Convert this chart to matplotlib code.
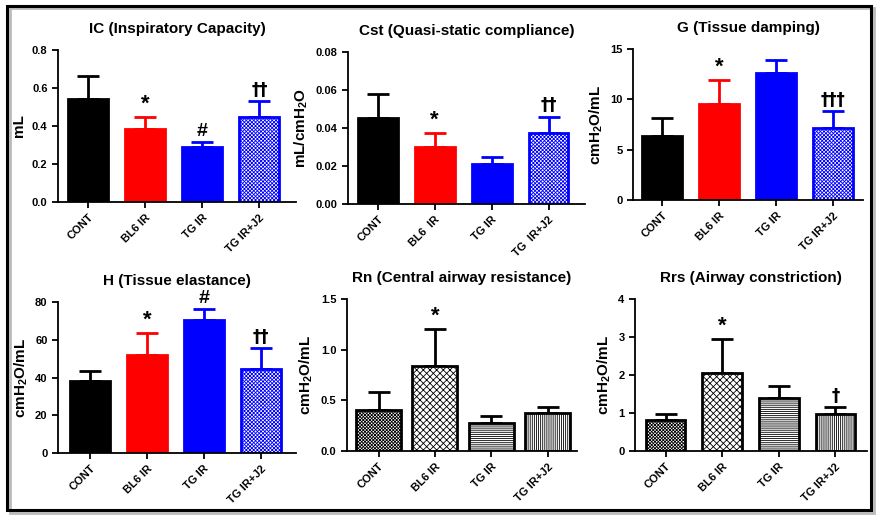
import numpy as np
import matplotlib.pyplot as plt
from matplotlib.patches import Rectangle

plt.rcParams['font.family'] = ['Liberation Sans', 'DejaVu Sans']
plt.rcParams['font.weight'] = 'bold'
plt.rcParams['hatch.linewidth'] = 0.6
plt.rcParams['mathtext.fontset'] = 'custom'
plt.rcParams['mathtext.rm'] = 'Liberation Sans:bold'
plt.rcParams['mathtext.bf'] = 'Liberation Sans:bold'
plt.rcParams['mathtext.default'] = 'bf'

groups = ['CONT', 'BL6 IR', 'TG IR', 'TG IR+J2']
cst_groups = ['CONT', 'BL6  IR', 'TG IR', 'TG  IR+J2']

# mean and upper error (SD) per panel
ic_mean = [0.54, 0.385, 0.288, 0.447]
ic_err = [0.125, 0.065, 0.027, 0.083]
cst_mean = [0.0455, 0.030, 0.021, 0.0375]
cst_err = [0.0125, 0.0075, 0.0035, 0.0085]
g_mean = [6.4, 9.5, 12.6, 7.2]
g_err = [1.7, 2.4, 1.3, 1.6]
h_mean = [38.3, 51.8, 70.3, 44.7]
h_err = [5.0, 11.8, 5.8, 11.0]
rn_mean = [0.40, 0.836, 0.277, 0.373]
rn_err = [0.185, 0.37, 0.073, 0.063]
rrs_mean = [0.82, 2.06, 1.39, 0.97]
rrs_err = [0.15, 0.88, 0.33, 0.18]

ic_marks = ['', '*', '#', '††']
cst_marks = ['', '*', '', '††']
g_marks = ['', '*', '', '†††']
h_marks = ['', '*', '#', '††']
rn_marks = ['', '*', '', '']
rrs_marks = ['', '*', '', '†']

W, H = 880, 518
fig = plt.figure(figsize=(8.8, 5.18), dpi=100)


def box(l, r, t, b):
    return [l / W, (H - b) / H, (r - l) / W, (b - t) / H]


top_colors = ['black', '#ff0000', '#0000ff', 'white']
top_edges = ['black', '#ff0000', '#0000ff', '#0000ff']
top_hatch = [None, None, None, 'xxxxxxxxx']
bot_hatch = ['xxxxxxxxxx', 'xxxxx', '--------', '||||||||']
mark_size = {'*': 16, '#': 14}

panels = [
    dict(pos=box(58, 296, 50, 202), title='IC (Inspiratory Capacity)', ylabel='mL',
         mean=ic_mean, err=ic_err, marks=ic_marks, ylim=(0, 0.8), yt=[0.0, 0.2, 0.4, 0.6, 0.8],
         fmt='{:.1f}', xl=(-0.52, 3.64), top=True, labels=groups, w=0.7),
    dict(pos=box(348, 585, 52, 204), title='Cst (Quasi-static compliance)', ylabel='mL/cmH$_2$O',
         mean=cst_mean, err=cst_err, marks=cst_marks, ylim=(0, 0.08), yt=[0.0, 0.02, 0.04, 0.06, 0.08],
         fmt='{:.2f}', xl=(-0.52, 3.64), top=True, labels=cst_groups, w=0.7),
    dict(pos=box(633, 863, 49, 200), title='G (Tissue damping)', ylabel='cmH$_2$O/mL',
         mean=g_mean, err=g_err, marks=g_marks, ylim=(0, 15), yt=[0, 5, 10, 15],
         fmt='{:.0f}', xl=(-0.51, 3.53), top=True, labels=groups, w=0.7),
    dict(pos=box(58, 296, 302, 453), title='H (Tissue elastance)', ylabel='cmH$_2$O/mL',
         mean=h_mean, err=h_err, marks=h_marks, ylim=(0, 80), yt=[0, 20, 40, 60, 80],
         fmt='{:.0f}', xl=(-0.56, 3.62), top=True, labels=groups, w=0.7),
    dict(pos=box(347, 577, 299, 451), title='Rn (Central airway resistance)', ylabel='cmH$_2$O/mL',
         mean=rn_mean, err=rn_err, marks=rn_marks, ylim=(0, 1.5), yt=[0.0, 0.5, 1.0, 1.5],
         fmt='{:.1f}', xl=(-0.56, 3.52), top=False, labels=groups, w=0.8),
    dict(pos=box(635, 867, 299, 451), title='Rrs (Airway constriction)', ylabel='cmH$_2$O/mL',
         mean=rrs_mean, err=rrs_err, marks=rrs_marks, ylim=(0, 4), yt=[0, 1, 2, 3, 4],
         fmt='{:.0f}', xl=(-0.54, 3.56), top=False, labels=groups, w=0.7),
]

x = np.arange(4)
for p in panels:
    ax = fig.add_axes(p['pos'])
    for i in range(4):
        if p['top']:
            fc, ec, hatch = top_colors[i], top_edges[i], top_hatch[i]
        else:
            fc, ec, hatch = 'white', 'black', bot_hatch[i]
        ax.bar(x[i], p['mean'][i], width=p['w'], color=fc, edgecolor=ec,
               hatch=hatch, linewidth=2, zorder=2)
        ax.errorbar(x[i], p['mean'][i], yerr=[[0], [p['err'][i]]], color=ec,
                    capsize=8, elinewidth=2, capthick=2, zorder=1)
        m = p['marks'][i]
        if m:
            ax.text(x[i], p['mean'][i] + p['err'][i] + 0.015 * p['ylim'][1], m,
                    ha='center', va='bottom', fontsize=mark_size.get(m, 12),
                    fontweight='bold', family=['DejaVu Sans'] if '†' in m else None)
    ax.set_xlim(*p['xl'])
    ax.set_ylim(*p['ylim'])
    ax.set_yticks(p['yt'])
    ax.set_yticklabels([p['fmt'].format(v) for v in p['yt']], fontsize=8, fontweight='bold')
    ax.set_xticks(x)
    ax.set_xticklabels(p['labels'], rotation=45, ha='right', rotation_mode='anchor',
                       fontsize=8, fontweight='bold')
    ax.spines['top'].set_visible(False)
    ax.spines['right'].set_visible(False)
    ax.spines['left'].set_linewidth(1.3)
    ax.spines['bottom'].set_linewidth(1.3)
    ax.tick_params(width=1.3, length=4)
    ax.set_ylabel(p['ylabel'], fontsize=11, fontweight='bold', labelpad=4)
    ax.set_title(p['title'], fontsize=11, fontweight='bold', pad=12)

# outer frame
fig.patches.append(Rectangle((10 / W, (H - 513) / H), 864 / W, 505 / H, transform=fig.transFigure,
                             fill=False, edgecolor='#bbbbbb', linewidth=2.0))
fig.patches.append(Rectangle((7 / W, (H - 510) / H), 864 / W, 504 / H, transform=fig.transFigure,
                             fill=False, edgecolor='black', linewidth=2.2))

fig.savefig('out.png', dpi=100)
